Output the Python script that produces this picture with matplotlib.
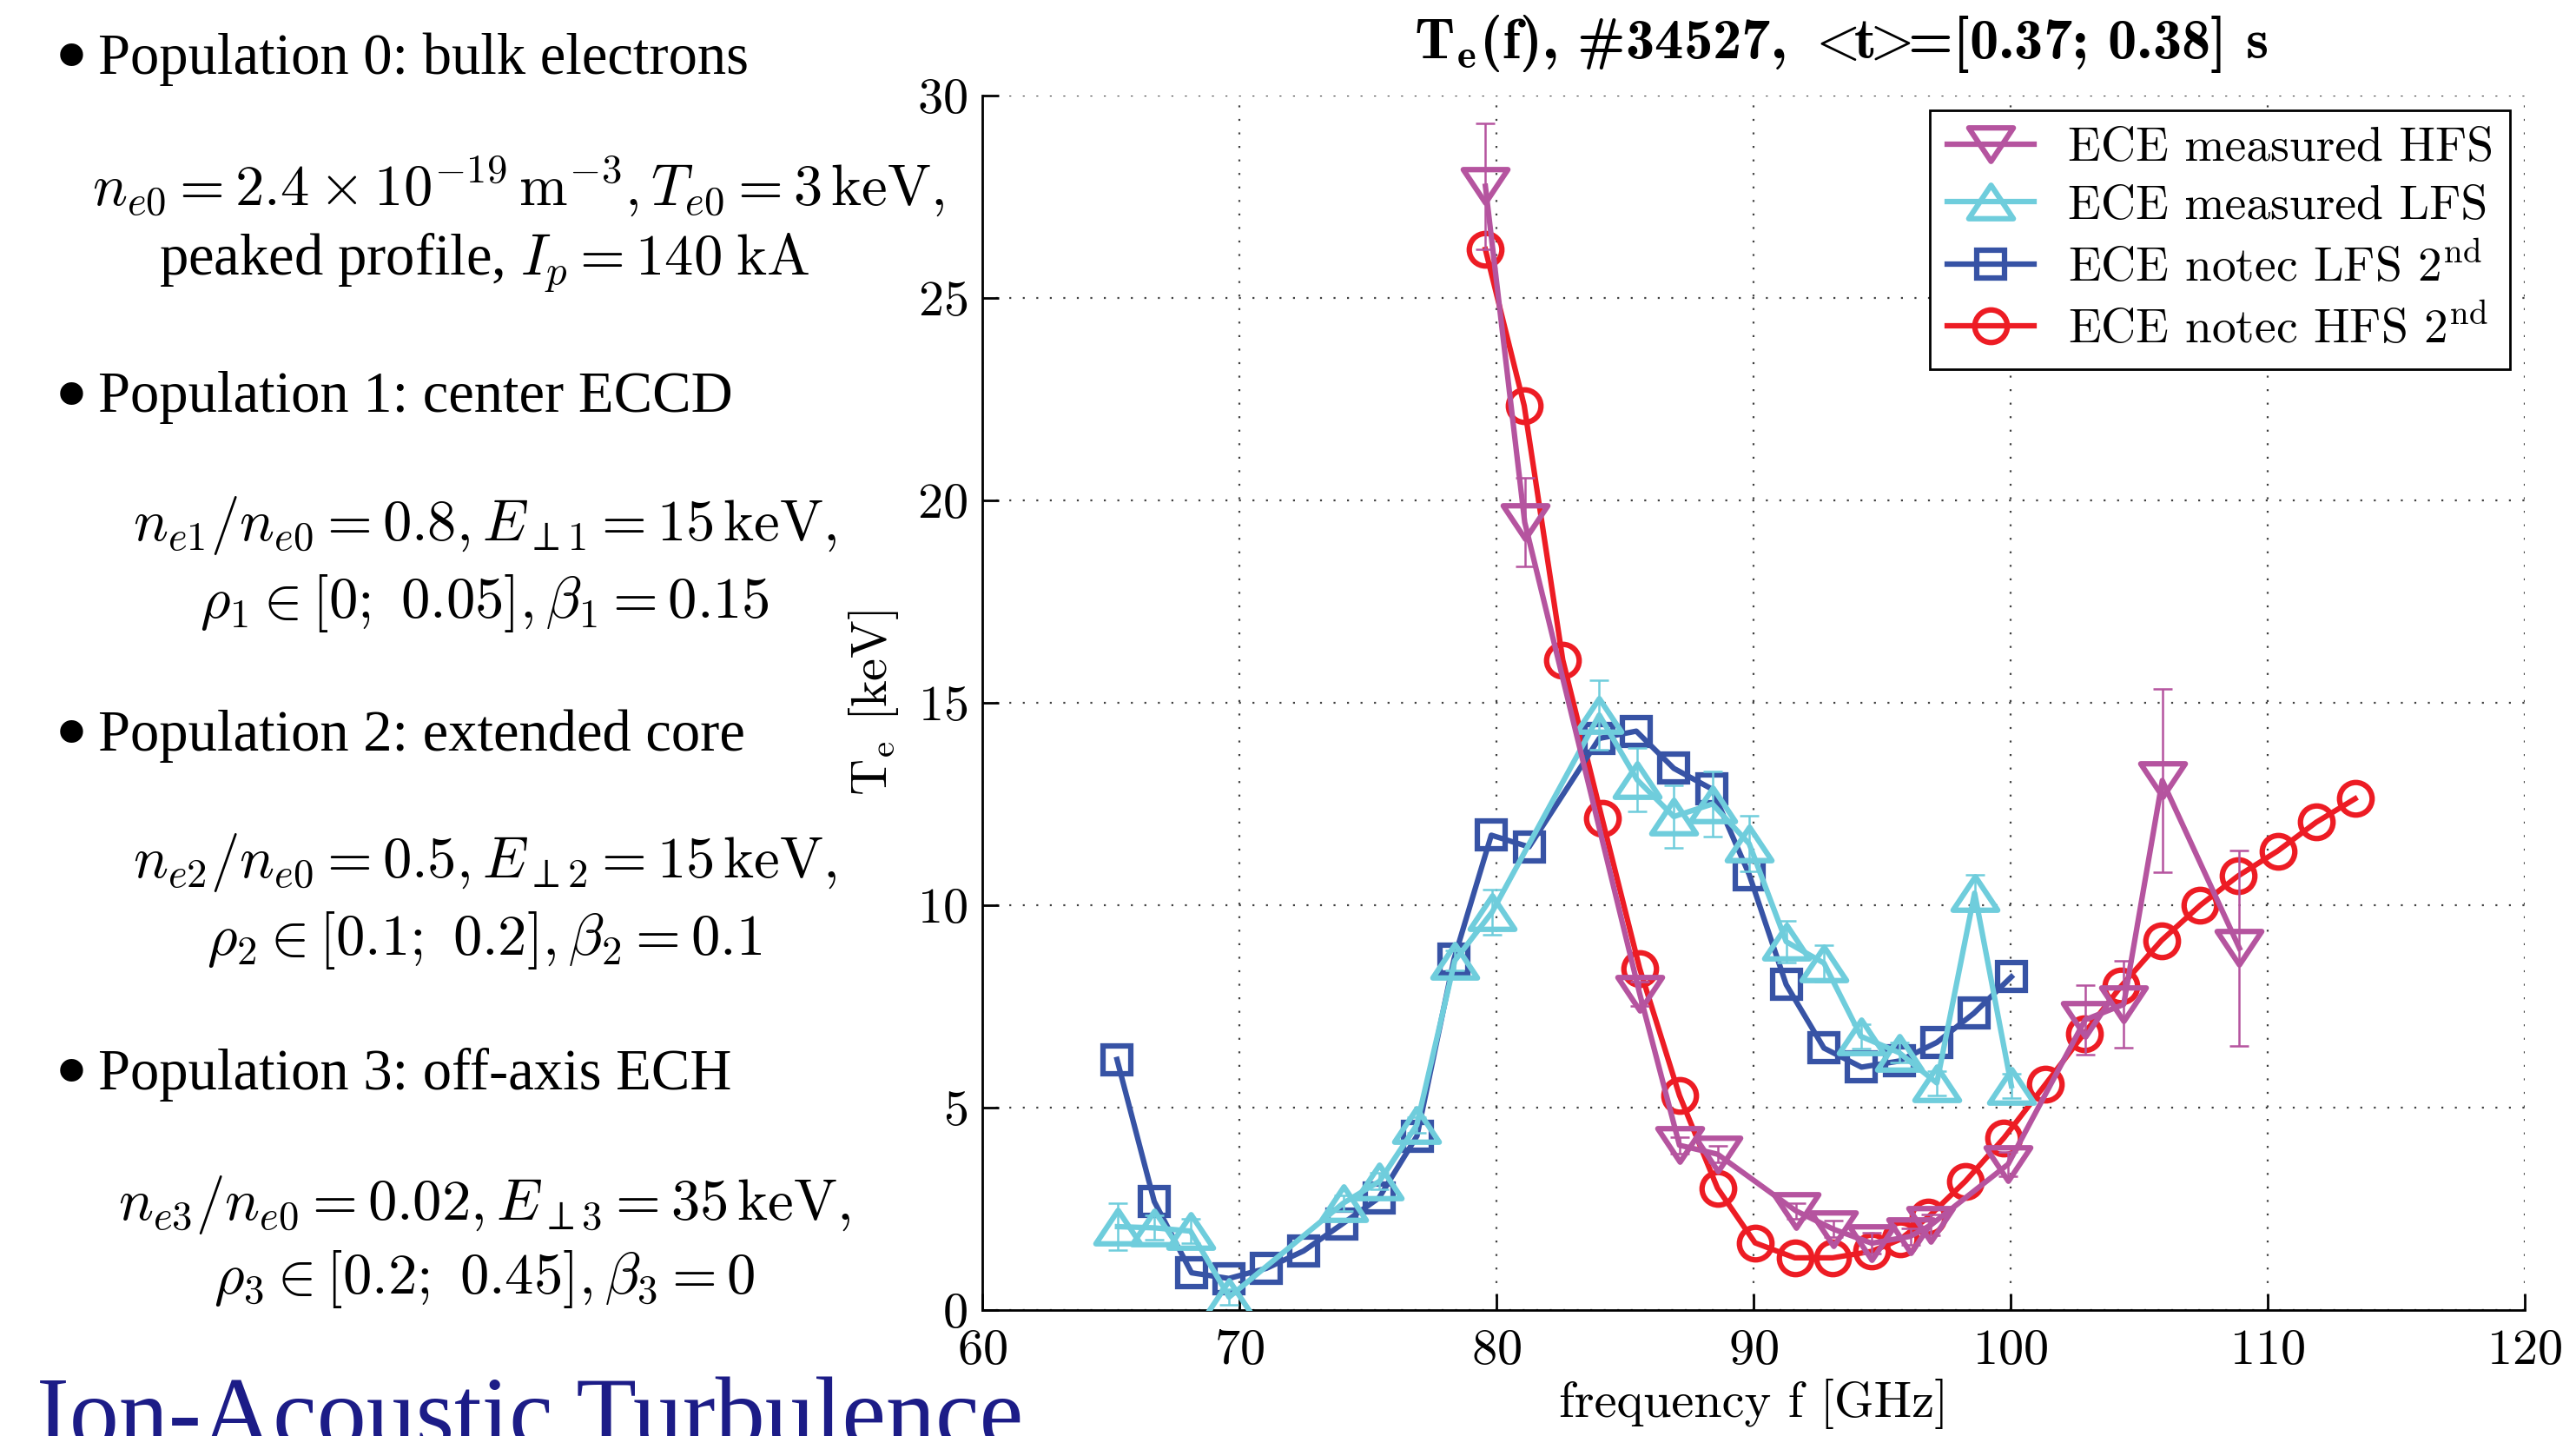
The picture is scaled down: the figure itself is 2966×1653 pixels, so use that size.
import numpy as np
import matplotlib
matplotlib.use('Agg')
import matplotlib.pyplot as plt
from matplotlib.path import Path
from matplotlib.markers import MarkerStyle

plt.rcParams['mathtext.fontset'] = 'cm'
plt.rcParams['font.family'] = 'cmr10'
plt.rcParams['axes.formatter.use_mathtext'] = True

# ECE measured HFS (with error bars)
hfs_meas_f = [79.57, 81.1, 85.57, 87.12, 88.6, 91.65, 93.1, 94.6, 96.1, 96.9,
              99.9, 102.9, 104.4, 105.9, 108.9]
hfs_meas_T = [27.76, 19.46, 7.82, 4.07, 3.85, 2.45, 2.0, 1.65, 1.82, 2.1,
              3.6, 7.17, 7.55, 13.08, 8.94]
hfs_meas_err = [1.55, 1.1, 0.3, 0.2, 0.2, 0.2, 0.2, 0.25, 0.2, 0.25,
                0.3, 0.86, 1.08, 2.26, 2.42]

# ECE measured LFS (with error bars)
lfs_meas_f = [65.26, 66.7, 68.1, 69.6, 74.04, 75.45, 76.9, 78.38, 79.83, 84.0,
              85.47, 86.9, 88.4, 89.83, 91.27, 92.74, 94.18, 95.66, 97.13, 98.6, 100.03]
lfs_meas_T = [2.06, 2.03, 1.95, 0.32, 2.64, 3.18, 4.57, 8.63, 9.83, 14.7,
              13.1, 12.19, 12.5, 11.52, 9.1, 8.57, 6.76, 6.36, 5.61, 10.3, 5.54]
lfs_meas_err = [0.57, 0.3, 0.3, 0.2, 0.2, 0.2, 0.2, 0.25, 0.55, 0.85,
                0.79, 0.77, 0.8, 0.69, 0.52, 0.45, 0.3, 0.25, 0.3, 0.45, 0.3]

# ECE notec LFS 2nd harmonic
lfs_notec_f = [65.24, 66.69, 68.14, 69.59, 71.05, 72.5, 73.99, 75.43, 76.91, 78.35,
               79.8, 81.27, 84.0, 85.44, 86.9, 88.38, 89.83, 91.27, 92.74, 94.2,
               95.66, 97.13, 98.57, 100.03]
lfs_notec_T = [6.19, 2.68, 0.92, 0.78, 1.03, 1.46, 2.12, 2.77, 4.3, 8.67,
               11.73, 11.44, 14.12, 14.3, 13.38, 12.87, 10.76, 8.04, 6.47, 6.0,
               6.15, 6.61, 7.33, 8.23]

# ECE notec HFS 2nd harmonic
hfs_notec_f = [79.57, 81.08, 82.58, 84.11, 85.57, 87.12, 88.6, 90.06, 91.61, 93.08,
               94.6, 95.72, 96.8, 98.24, 99.74, 101.35, 102.86, 104.3, 105.87, 107.38,
               108.84, 110.39, 111.89, 113.4]
hfs_notec_T = [26.2, 22.34, 16.06, 12.14, 8.44, 5.3, 3.01, 1.66, 1.29, 1.29,
               1.45, 1.75, 2.3, 3.18, 4.25, 5.57, 6.83, 8.0, 9.13, 10.0,
               10.72, 11.34, 12.05, 12.63]

c_hfs = '#b5549f'
c_lfs = '#6fcddc'
c_notec_lfs = '#3753a5'
c_notec_hfs = '#ed1c24'

W, H = 2966, 1653
fig = plt.figure(figsize=(W / 100, H / 100), dpi=100)

def fx(px):
    return px / W

def fy(py):
    return 1 - py / H

ax = fig.add_axes([fx(1131), fy(1508), fx(2907) - fx(1131), fy(110) - fy(1508)])

tri_up = MarkerStyle(Path([(0, 0.75), (-1, -0.75), (1, -0.75), (0, 0.75)], closed=True), joinstyle='miter')
tri_dn = MarkerStyle(Path([(0, -0.75), (-1, 0.75), (1, 0.75), (0, -0.75)], closed=True), joinstyle='miter')

lw = 4.5
mew = 4.5
ax.plot(hfs_notec_f, hfs_notec_T, color=c_notec_hfs, lw=lw, marker='o', ms=27,
        mfc='none', mew=mew, zorder=2, label=r'ECE notec HFS 2$^{\mathrm{nd}}$')
ax.plot(lfs_notec_f, lfs_notec_T, color=c_notec_lfs, lw=lw, marker='s', ms=23,
        mfc='none', mew=mew, zorder=2.2, label=r'ECE notec LFS 2$^{\mathrm{nd}}$')
ax.errorbar(lfs_meas_f, lfs_meas_T, yerr=lfs_meas_err, fmt='none', ecolor=c_lfs,
            elinewidth=1.8, capsize=8, capthick=1.8, zorder=3)
ax.plot(lfs_meas_f, lfs_meas_T, color=c_lfs, lw=lw, marker=tri_up, ms=37,
        mfc='none', mew=mew, zorder=3, label='ECE measured LFS')
ax.errorbar(hfs_meas_f, hfs_meas_T, yerr=hfs_meas_err, fmt='none', ecolor=c_hfs,
            elinewidth=1.8, capsize=8, capthick=1.8, zorder=4)
ax.plot(hfs_meas_f, hfs_meas_T, color=c_hfs, lw=lw, marker=tri_dn, ms=37,
        mfc='none', mew=mew, zorder=4, label='ECE measured HFS')

ax.set_xlim(60, 120)
ax.set_ylim(0, 30)
ax.set_xticks(np.arange(60, 121, 10))
ax.set_yticks(np.arange(0, 31, 5))
ax.grid(True, linestyle=(0, (1, 6)), color='0.25', lw=1.6)
for s in ['top', 'right']:
    ax.spines[s].set_visible(False)
for s in ['left', 'bottom']:
    ax.spines[s].set_linewidth(2)
ax.tick_params(direction='in', length=14, width=2, labelsize=42, pad=12)
ax.tick_params(axis='x', pad=16)

ax.set_xlabel('frequency f [GHz]', fontsize=42, labelpad=4)
ax.set_ylabel(r'T$_\mathrm{e}$ [keV]', fontsize=42, labelpad=14)

handles, labels = ax.get_legend_handles_labels()
order = [3, 2, 1, 0]
leg = ax.legend([handles[i] for i in order], [labels[i] for i in order],
                loc='upper right', prop={'family': 'cmr10', 'size': 40},
                fancybox=False, framealpha=1, edgecolor='black',
                handlelength=1.8, labelspacing=0.3, borderaxespad=0.3,
                handletextpad=0.7, borderpad=0.35)
leg.get_frame().set_linewidth(2)

fig.text(fx(2120), fy(51), r'T$_{\mathbf{e}}$(f), #34527, ${<}\!\!\mathbf{t}\!\!{>}\!\!$=[0.37; 0.38] s',
         family='cmb10', fontsize=48, ha='center', va='center')

# left panel text
tfam = 'Liberation Serif'
bullets = ['Population 0: bulk electrons',
           'Population 1: center ECCD',
           'Population 2: extended core',
           'Population 3: off-axis ECH']
bullet_y = [68, 458, 847, 1237]
for txt, y in zip(bullets, bullet_y):
    fig.text(fx(82), fy(y + 4), '\u2022', family=tfam, fontsize=80, ha='center', va='center')
    fig.text(fx(113), fy(y), txt, family=tfam, fontsize=48, ha='left', va='center')

math_lines = [
    (r'$n_{e0} = 2.4 \times 10^{-19}\,\mathrm{m}^{-3}, T_{e0} = 3\,\mathrm{keV},$', 596, 214),
    (r'peaked profile, $I_p = 140\;\mathrm{kA}$', 558, 303),
    (r'$n_{e1}/n_{e0} = 0.8, E_{\perp 1} = 15\,\mathrm{keV},$', 558, 605),
    (r'$\rho_1 \in [0;\ 0.05], \beta_1 = 0.15$', 558, 694),
    (r'$n_{e2}/n_{e0} = 0.5, E_{\perp 2} = 15\,\mathrm{keV},$', 558, 993),
    (r'$\rho_2 \in [0.1;\ 0.2], \beta_2 = 0.1$', 558, 1082),
    (r'$n_{e3}/n_{e0} = 0.02, E_{\perp 3} = 35\,\mathrm{keV},$', 558, 1387),
    (r'$\rho_3 \in [0.2;\ 0.45], \beta_3 = 0$', 558, 1472),
]
for txt, x, y in math_lines:
    fig.text(fx(x), fy(y), txt, family=tfam, fontsize=48, ha='center', va='center')

fig.text(fx(42), fy(1664), 'Ion-Acoustic Turbulence', family=tfam, fontsize=82,
         color='#1c1c87', ha='left', va='baseline')

fig.savefig('out.png', dpi=100)
